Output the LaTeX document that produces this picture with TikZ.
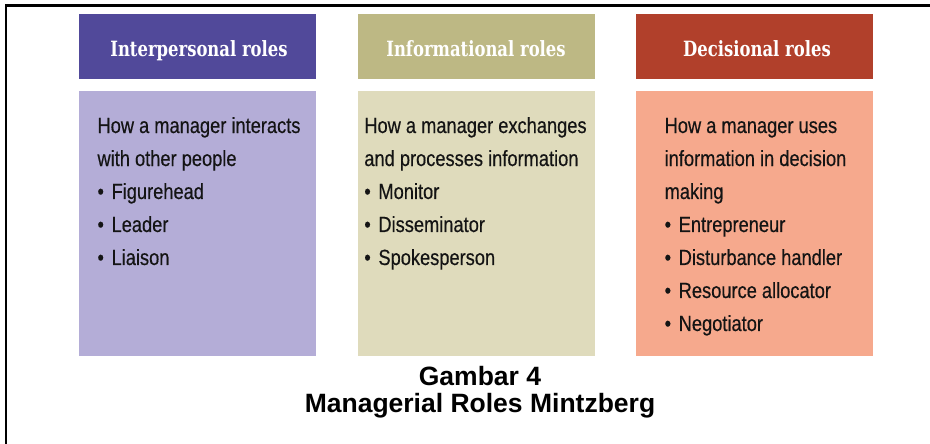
\documentclass[tikz,border=0pt]{standalone}
\usepackage{fontspec}
\setmainfont{Liberation Sans}
\newfontfamily\bodyfont[FakeStretch=0.83,FakeBold=0.4]{Liberation Sans}
\newfontfamily\headfont[FakeStretch=0.87]{DejaVu Serif Condensed}
\newcommand\itm{\textbullet\hspace{0.35em}}

% role colours
\definecolor{interH}{HTML}{51499A}
\definecolor{interB}{HTML}{B4ADD7}
\definecolor{infoH}{HTML}{BDB884}
\definecolor{infoB}{HTML}{DFDBBC}
\definecolor{decH}{HTML}{B1402B}
\definecolor{decB}{HTML}{F6A98D}

\tikzset{
  hdr/.style={draw=none, minimum width=237pt, minimum height=65pt, inner sep=0pt},
  hdrtext/.style={anchor=base, inner sep=0pt, text=white,
    font=\headfont\bfseries\fontsize{21}{24}\selectfont},
  bodybox/.style={draw=none, minimum width=237pt, minimum height=265pt, inner sep=0pt},
  bodytext/.style={anchor=base, inner sep=0pt, text=black!92,
    font=\bodyfont\fontsize{22}{33}\selectfont},
  caption/.style={anchor=base, inner sep=0pt, font=\bfseries\fontsize{26.5}{28}\selectfont},
  frameline/.style={line width=2.5pt, black}
}

\begin{document}
\begin{tikzpicture}[x=1pt,y=-1pt]
\useasboundingbox (0,0) rectangle (930,444);

% open frame: left and top edges
\coordinate (fbl) at (6,444);
\coordinate (ftl) at (6,5.5);
\coordinate (ftr) at (930,5.5);
\draw[frameline] (fbl) -- (ftl) -- (ftr);

% column headers
\node[hdr, fill=interH] (h1) at (197.5,46.5) {};
\node[hdr, fill=infoH]  (h2) at (476.5,46.5) {};
\node[hdr, fill=decH]   (h3) at (754.5,46.5) {};
\node[hdrtext] (ht1) at (199,56.7) {Interpersonal roles};
\node[hdrtext] (ht2) at (476,56.7) {Informational roles};
\node[hdrtext] (ht3) at (757,56.7) {Decisional roles};

% column bodies
\node[bodybox, fill=interB] (b1) at (197.5,223.5) {};
\node[bodybox, fill=infoB]  (b2) at (476.5,223.5) {};
\node[bodybox, fill=decB]   (b3) at (754.5,223.5) {};

\node[bodytext] (t1) at (199,133) {\begin{tabular}[t]{@{}l@{}}
How a manager interacts\\
with other people\\
\itm Figurehead\\
\itm Leader\\
\itm Liaison
\end{tabular}};

\node[bodytext] (t2) at (475.5,133) {\begin{tabular}[t]{@{}l@{}}
How a manager exchanges\\
and processes information\\
\itm Monitor\\
\itm Disseminator\\
\itm Spokesperson
\end{tabular}};

\node[bodytext] (t3) at (755.5,133) {\begin{tabular}[t]{@{}l@{}}
How a manager uses\\
information in decision\\
making\\
\itm Entrepreneur\\
\itm Disturbance handler\\
\itm Resource allocator\\
\itm Negotiator
\end{tabular}};

% caption
\node[caption] (cap1) at (480,385) {Gambar 4};
\node[caption] (cap2) at (480,412) {Managerial Roles Mintzberg};
\end{tikzpicture}
\end{document}
